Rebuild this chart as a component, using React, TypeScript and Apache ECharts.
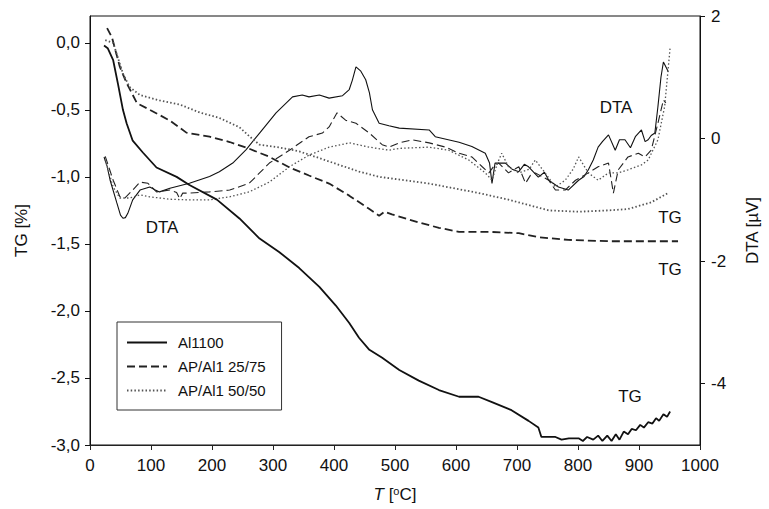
import React, { useEffect, useRef } from "react";
import * as echarts from "echarts";

const FONT = "'Liberation Sans', Arial, Helvetica, sans-serif";

const seriesNames = ["Al1100", "AP/Al1 25/75", "AP/Al1 50/50"];
const tgTickValues = [-3, -2.5, -2, -1.5, -1, -0.5, 0];
const dtaTickValues = [-4, -2, 0, 2];

// TG [%] (left axis) — [T °C, TG %]
const al1100TG: [number, number][] = [
  [23, -0.02], [29, -0.04], [38, -0.13], [46, -0.31], [54, -0.5], [60, -0.6], [70, -0.73],
  [87, -0.82], [109, -0.93], [142, -1.0], [163, -1.06], [208, -1.17], [245, -1.31],
  [278, -1.46], [310, -1.56], [343, -1.68], [376, -1.82], [403, -1.96], [425, -2.09],
  [441, -2.2], [458, -2.29], [479, -2.35], [507, -2.44], [539, -2.52], [572, -2.59],
  [605, -2.64], [637, -2.64], [659, -2.68], [691, -2.74], [719, -2.82], [735, -2.87],
  [740, -2.94], [763, -2.94], [773, -2.96], [785, -2.95], [801, -2.95], [808, -2.97],
  [815, -2.94], [825, -2.96], [833, -2.93], [840, -2.97], [848, -2.93], [855, -2.97],
  [862, -2.92], [868, -2.96], [875, -2.9], [882, -2.92], [888, -2.88], [895, -2.89],
  [902, -2.85], [908, -2.87], [915, -2.83], [922, -2.84], [928, -2.8], [933, -2.82],
  [940, -2.77], [946, -2.79], [951, -2.75]
];
const ap25TG: [number, number][] = [
  [28, 0.11], [36, 0.04], [49, -0.18], [60, -0.3], [77, -0.45], [98, -0.5], [131, -0.58],
  [158, -0.67], [196, -0.7], [229, -0.74], [261, -0.79], [294, -0.85], [327, -0.93],
  [359, -0.99], [392, -1.05], [425, -1.14], [458, -1.24], [474, -1.29], [483, -1.26],
  [495, -1.28], [539, -1.34], [572, -1.38], [605, -1.41], [654, -1.41], [703, -1.42],
  [735, -1.45], [784, -1.47], [850, -1.48], [900, -1.48], [964, -1.48]
];
const ap50TG: [number, number][] = [
  [25, 0.02], [38, 0.0], [54, -0.23], [65, -0.33], [82, -0.39], [114, -0.43], [147, -0.46],
  [180, -0.52], [212, -0.56], [245, -0.63], [262, -0.7], [278, -0.76], [310, -0.78],
  [343, -0.81], [376, -0.86], [408, -0.91], [441, -0.96], [474, -1.0], [556, -1.05],
  [637, -1.12], [686, -1.17], [752, -1.25], [801, -1.26], [850, -1.25], [882, -1.24],
  [920, -1.19], [948, -1.12]
];

// DTA [µV] (right axis) — [T °C, DTA µV]
const al1100DTA: [number, number][] = [
  [23, -0.3], [28, -0.45], [33, -0.68], [44, -1.05], [50, -1.25], [54, -1.3], [58, -1.29],
  [62, -1.22], [70, -1.0], [82, -0.84], [98, -0.79], [107, -0.84], [114, -0.87], [131, -0.81],
  [163, -0.73], [196, -0.62], [212, -0.54], [234, -0.4], [256, -0.18], [278, 0.09], [305, 0.42],
  [332, 0.68], [348, 0.71], [359, 0.68], [376, 0.71], [392, 0.66], [414, 0.7], [425, 0.8],
  [430, 0.95], [436, 1.17], [444, 1.1], [452, 0.96], [458, 0.75], [463, 0.47], [474, 0.25],
  [490, 0.21], [507, 0.17], [556, 0.14], [566, 0.03], [605, -0.06], [626, -0.13], [648, -0.24],
  [655, -0.4], [659, -0.73], [664, -0.4], [681, -0.4], [692, -0.5], [703, -0.54], [712, -0.42],
  [719, -0.46], [735, -0.63], [745, -0.55], [752, -0.68], [768, -0.79], [784, -0.84],
  [801, -0.68], [810, -0.62], [817, -0.51], [825, -0.35], [833, -0.14], [840, -0.05],
  [850, 0.06], [861, -0.19], [868, -0.02], [877, -0.02], [886, -0.15], [894, 0.03],
  [904, 0.14], [910, -0.05], [915, -0.02], [920, 0.05], [926, 0.09], [931, 0.52], [936, 1.0],
  [940, 1.25], [945, 1.15], [948, 1.09]
];
const ap25DTA: [number, number][] = [
  [25, -0.29], [38, -0.68], [49, -0.95], [57, -0.97], [70, -0.84], [82, -0.71], [95, -0.73],
  [109, -0.87], [131, -0.84], [142, -0.88], [147, -0.98], [152, -0.89], [163, -0.89],
  [196, -0.87], [229, -0.84], [261, -0.73], [278, -0.56], [294, -0.4], [327, -0.19],
  [359, 0.03], [381, 0.09], [392, 0.19], [405, 0.42], [419, 0.3], [436, 0.25], [458, 0.09],
  [479, -0.1], [490, -0.14], [507, -0.07], [528, -0.02], [556, -0.07], [583, -0.14],
  [605, -0.24], [626, -0.3], [643, -0.46], [654, -0.56], [662, -0.45], [670, -0.4],
  [686, -0.56], [703, -0.46], [714, -0.73], [722, -0.6], [730, -0.56], [752, -0.68],
  [763, -0.84], [779, -0.84], [796, -0.68], [817, -0.56], [833, -0.46], [850, -0.4],
  [858, -0.89], [866, -0.51], [882, -0.3], [899, -0.24], [910, -0.3], [920, -0.19],
  [931, 0.25], [940, 0.63], [944, 0.58]
];
const ap50DTA: [number, number][] = [
  [25, -0.35], [38, -0.79], [49, -0.97], [65, -0.97], [82, -0.92], [98, -0.95], [131, -0.99],
  [163, -1.0], [196, -1.0], [229, -0.95], [261, -0.87], [294, -0.71], [327, -0.46],
  [359, -0.27], [392, -0.14], [425, -0.07], [458, -0.14], [490, -0.19], [507, -0.16],
  [556, -0.14], [588, -0.19], [621, -0.35], [648, -0.56], [659, -0.68], [668, -0.4],
  [675, -0.24], [686, -0.46], [703, -0.56], [720, -0.5], [730, -0.35], [746, -0.56],
  [763, -0.79], [779, -0.68], [792, -0.5], [801, -0.3], [817, -0.56], [833, -0.68],
  [850, -0.56], [866, -0.56], [882, -0.51], [904, -0.43], [915, -0.35], [931, -0.02],
  [942, 0.52], [951, 1.48]
];

const annotations = [
  { text: "DTA", x: 162, y: 227 },
  { text: "DTA", x: 616, y: 107 },
  { text: "TG", x: 670, y: 217 },
  { text: "TG", x: 670, y: 269 },
  { text: "TG", x: 630, y: 396 }
];

const styles = [
  { color: "#111", type: "solid" as any },
  { color: "#222", type: [8, 4] as any },
  { color: "#555", type: [1.5, 2.2] as any }
];

function line(name: string, data: [number, number][], yAxisIndex: number, idx: number, width: number) {
  const s = styles[idx];
  return {
    name,
    type: "line",
    data,
    yAxisIndex,
    symbol: "none",
    showSymbol: false,
    silent: true,
    itemStyle: { color: s.color },
    lineStyle: { color: s.color, width, type: s.type }
  };
}

export default function App() {
  const ref = useRef<HTMLDivElement>(null);
  useEffect(() => {
    if (!ref.current) return;
    const chart = echarts.init(ref.current, undefined, { renderer: "svg" });
    const axisText = { fontSize: 17, color: "#111", fontFamily: FONT };
    const option: any = {
      animation: false,
      backgroundColor: "#fff",
      textStyle: { fontFamily: FONT },
      grid: {
        left: 90, right: 67, top: 16, bottom: 64,
        show: true, borderColor: "#111", borderWidth: 1, backgroundColor: "transparent"
      },
      legend: {
        orient: "vertical",
        left: 117,
        top: 322,
        data: seriesNames,
        selectedMode: false,
        itemWidth: 40,
        itemHeight: 14,
        itemGap: 9,
        padding: [13, 16, 12, 9],
        borderColor: "#333",
        borderWidth: 1,
        backgroundColor: "#fff",
        itemStyle: { opacity: 0, borderWidth: 0 },
        textStyle: { fontSize: 15, color: "#111", fontFamily: FONT, padding: [0, 0, 0, 6] }
      },
      xAxis: {
        type: "value",
        min: 0,
        max: 1000,
        interval: 100,
        name: "{i|T} [{s|o}C]",
        nameLocation: "middle",
        nameGap: 40,
        nameTextStyle: {
          ...axisText,
          rich: {
            i: { fontStyle: "italic", fontSize: 17, color: "#111", fontFamily: FONT },
            s: { fontSize: 11, color: "#111", fontFamily: FONT, verticalAlign: "top", padding: [0, 0, 7, 0] }
          }
        },
        axisLine: { show: true, onZero: false, lineStyle: { color: "#222", width: 1 } },
        axisTick: { show: true, inside: false, length: 5, lineStyle: { color: "#222" } },
        axisLabel: { ...axisText, margin: 12, formatter: (v: number) => String(v) },
        splitLine: { show: false }
      },
      yAxis: [
        {
          type: "value",
          position: "left",
          min: -3,
          max: 0.2,
          name: "TG [%]",
          nameLocation: "middle",
          nameGap: 60,
          nameTextStyle: axisText,
          axisLine: { show: true, onZero: false, lineStyle: { color: "#111", width: 1 } },
          axisTick: { show: true, inside: false, length: 5, customValues: tgTickValues, lineStyle: { color: "#111" } },
          axisLabel: {
            ...axisText,
            margin: 10,
            customValues: tgTickValues,
            formatter: (v: number) => v.toFixed(1).replace(".", ",")
          },
          splitLine: { show: false }
        },
        {
          type: "value",
          position: "right",
          min: -5,
          max: 2,
          name: "DTA [µV]",
          nameLocation: "middle",
          nameGap: 44,
          nameTextStyle: axisText,
          axisLine: { show: true, onZero: false, lineStyle: { color: "#111", width: 1 } },
          axisTick: { show: true, inside: false, length: 5, customValues: dtaTickValues, lineStyle: { color: "#111" } },
          axisLabel: { ...axisText, margin: 11, customValues: dtaTickValues, formatter: (v: number) => String(v) },
          splitLine: { show: false }
        }
      ],
      graphic: annotations.map((a) => ({
        type: "text",
        x: a.x,
        y: a.y,
        silent: true,
        z: 100,
        style: {
          text: a.text,
          fontSize: 17,
          fontFamily: FONT,
          fill: "#111",
          align: "center",
          verticalAlign: "middle"
        }
      })),
      series: [
        line(seriesNames[0], al1100DTA, 1, 0, 1.1),
        line(seriesNames[1], ap25DTA, 1, 1, 1.1),
        line(seriesNames[2], ap50DTA, 1, 2, 1.3),
        line(seriesNames[0], al1100TG, 0, 0, 1.8),
        line(seriesNames[1], ap25TG, 0, 1, 1.8),
        line(seriesNames[2], ap50TG, 0, 2, 1.8)
      ]
    };
    chart.setOption(option);
    return () => chart.dispose();
  }, []);
  return (
    <div
      ref={ref}
      style={{ position: "absolute", left: 0, top: 0, width: 769, height: 509, background: "#fff" }}
    />
  );
}
